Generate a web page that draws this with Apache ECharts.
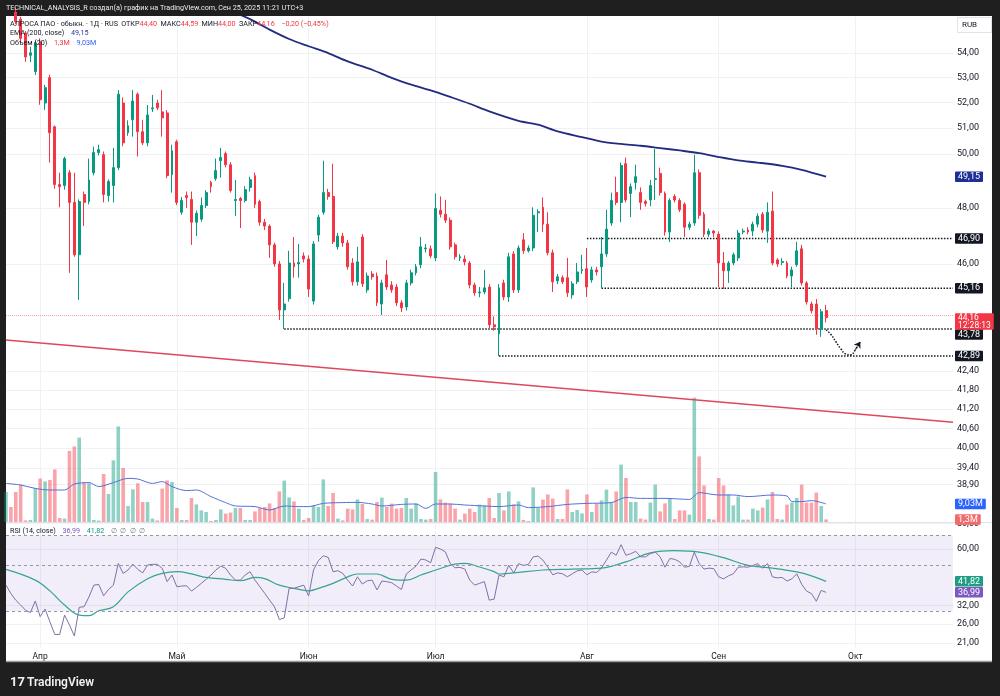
<!DOCTYPE html>
<html lang="ru">
<head>
<meta charset="utf-8">
<title>АЛРОСА ПАО · 1Д</title>
<script src="https://cdn.jsdelivr.net/npm/echarts@6.0.0/dist/echarts.min.js"></script>
<style>
  html, body { margin: 0; padding: 0; background: #1f1f1f; }
  #panel { position: absolute; left: 6px; top: 16px; width: 986px; height: 646px; background: #fff; }
  #main { position: absolute; left: 0; top: 0; width: 1000px; height: 696px; }
</style>
</head>
<body>
<div id="panel"></div>
<div id="main"></div>
<script>
// bar slots: 169 daily bars + empty space on the right
const SLOT_COUNT = 195;
const MONTH_LABELS = { 7: "Апр", 35: "Май", 62: "Июн", 88: "Июл", 119: "Авг", 146: "Сен", 174: "Окт" };

const PRICE_TICKS = [54, 53, 52, 51, 50, 48, 46, 42.4, 41.8, 41.2, 40.6, 40, 39.4, 38.9];
const PRICE_RANGE = [37.81, 55.49];
const VOLUME_MAX = 252.5;
const RSI_TICKS = [80, 60, 32, 26, 21];
const RSI_RANGE = [19.86, 80.3];
const RSI_BANDS = [70, 50, 30];

// [open, high, low, close]
const OHLC = [
  [56.0, 56.7, 55.7, 56.4], [56.4, 56.6, 55.6, 55.8], [55.7, 55.9, 55.2, 55.3], [55.4, 55.5, 54.4, 54.6],
  [54.82, 54.9, 53.63, 53.83], [53.9, 54.25, 53.62, 54.0], [53.24, 54.5, 53.1, 54.41], [54.45, 54.6, 51.91, 52.11],
  [51.98, 52.7, 51.71, 52.59], [52.99, 53.11, 49.68, 50.82], [51.05, 51.1, 48.7, 48.86], [48.86, 49.3, 48.02, 48.78],
  [48.82, 49.9, 48.67, 49.83], [49.3, 49.4, 45.69, 48.2], [48.2, 49.3, 46.25, 46.32], [46.32, 48.31, 44.76, 48.23],
  [48.49, 48.6, 47.34, 48.2], [48.23, 49.83, 48.13, 49.03], [49.3, 50.28, 49.2, 50.06], [50.06, 50.36, 49.95, 50.17],
  [49.98, 50.1, 48.2, 48.49], [48.45, 49.05, 48.23, 48.97], [48.82, 50.24, 48.2, 49.49], [49.49, 52.49, 49.4, 52.33],
  [51.98, 52.2, 50.3, 50.43], [50.82, 51.3, 50.7, 51.09], [51.32, 52.49, 50.67, 52.06], [52.33, 52.4, 49.91, 50.86],
  [50.86, 51.32, 50.35, 50.43], [50.43, 51.9, 50.3, 51.51], [51.75, 52.3, 51.63, 51.79], [51.98, 52.11, 51.7, 51.79],
  [51.63, 52.49, 50.67, 51.4], [51.59, 51.7, 49.1, 49.19], [49.23, 50.36, 48.56, 50.13], [50.47, 50.55, 48.1, 48.2],
  [47.84, 48.4, 47.75, 48.27], [48.45, 48.6, 48.0, 48.38], [48.31, 48.6, 46.67, 47.48], [47.48, 47.9, 46.98, 47.8],
  [47.59, 48.38, 47.5, 48.09], [48.09, 48.65, 48.0, 48.56], [48.93, 49.0, 48.56, 48.78], [49.08, 49.83, 49.0, 49.38],
  [49.75, 50.24, 49.12, 49.87], [50.02, 50.1, 49.5, 49.6], [49.6, 49.7, 48.56, 48.64], [48.27, 49.03, 47.7, 48.31],
  [48.34, 48.4, 47.27, 48.27], [48.27, 48.8, 48.2, 48.67], [48.75, 49.15, 48.6, 49.04], [49.19, 49.3, 48.0, 48.13],
  [48.23, 48.3, 47.35, 47.48], [47.48, 47.6, 47.2, 47.34], [47.34, 47.4, 46.21, 46.67], [46.67, 46.75, 45.9, 46.0],
  [46.0, 46.1, 44.08, 44.42], [44.42, 45.34, 43.78, 44.62], [44.8, 46.46, 44.7, 46.03], [46.03, 46.95, 45.52, 45.9],
  [46.0, 46.7, 45.52, 46.05], [46.28, 46.4, 46.05, 46.17], [46.17, 46.3, 44.86, 45.13], [44.72, 46.8, 44.6, 46.7],
  [47.02, 47.75, 46.78, 47.66], [47.84, 49.75, 47.75, 48.56], [48.56, 48.7, 48.3, 48.42], [48.42, 49.64, 46.7, 46.78],
  [46.6, 47.1, 46.5, 46.98], [46.98, 47.1, 46.6, 46.74], [46.74, 46.85, 45.8, 45.9], [46.03, 46.2, 45.25, 45.38],
  [45.38, 46.6, 45.25, 46.07], [46.95, 47.05, 45.2, 45.31], [45.1, 45.7, 45.0, 45.58], [45.65, 45.75, 45.45, 45.55],
  [45.58, 45.7, 44.55, 44.66], [44.62, 45.45, 44.25, 45.34], [45.62, 46.14, 45.1, 45.2], [45.27, 45.4, 45.0, 45.1],
  [45.2, 45.3, 44.55, 44.66], [44.66, 44.75, 44.35, 44.49], [44.52, 45.45, 44.4, 45.34], [45.34, 45.8, 45.25, 45.69],
  [45.69, 46.0, 45.6, 45.9], [45.97, 46.95, 45.85, 46.6], [46.53, 46.7, 46.4, 46.56], [46.53, 46.65, 46.2, 46.28],
  [46.21, 48.53, 46.1, 47.98], [47.91, 48.42, 47.65, 47.77], [47.77, 48.29, 47.45, 47.55], [47.55, 47.65, 46.5, 46.6],
  [46.67, 46.75, 46.15, 46.25], [46.21, 46.35, 46.1, 46.25], [46.17, 46.3, 45.95, 46.07], [46.03, 46.1, 45.15, 45.27],
  [45.27, 45.35, 44.9, 45.0], [45.0, 45.2, 44.85, 45.03], [45.03, 45.79, 44.95, 45.17], [45.2, 45.3, 43.8, 43.92],
  [43.92, 44.2, 43.72, 43.85], [43.62, 45.3, 42.89, 45.17], [45.34, 45.45, 44.75, 44.86], [44.86, 46.39, 44.69, 46.25],
  [46.35, 46.45, 45.0, 45.1], [45.1, 46.65, 45.0, 46.56], [46.85, 47.09, 46.35, 46.46], [46.46, 46.65, 46.4, 46.56],
  [46.56, 48.02, 46.45, 47.73], [47.82, 47.95, 47.13, 47.86], [48.02, 48.38, 47.13, 47.41], [47.41, 47.84, 46.3, 46.39],
  [46.39, 46.5, 45.03, 45.38], [45.41, 45.65, 45.3, 45.55], [45.52, 45.6, 45.3, 45.38], [45.52, 46.21, 44.86, 45.0],
  [44.93, 45.4, 44.8, 45.31], [45.38, 46.03, 45.3, 45.72], [45.76, 46.32, 45.65, 45.8], [45.83, 46.56, 44.86, 45.2],
  [45.44, 45.9, 45.35, 45.79], [45.79, 45.9, 45.6, 45.72], [45.9, 46.95, 45.17, 46.35], [46.35, 47.93, 46.25, 47.23],
  [47.45, 48.56, 47.35, 48.27], [48.56, 49.15, 48.1, 48.2], [48.2, 49.68, 47.48, 49.57], [49.64, 49.87, 48.2, 48.29],
  [48.53, 48.9, 47.66, 48.78], [48.93, 49.6, 48.67, 49.15], [48.56, 48.75, 47.93, 48.2], [48.23, 48.3, 48.05, 48.16],
  [48.29, 49.03, 48.06, 48.82], [49.05, 50.2, 48.29, 49.08], [49.27, 49.49, 48.45, 48.56], [48.53, 48.6, 47.0, 47.13],
  [47.13, 48.35, 46.77, 48.27], [48.42, 48.5, 48.2, 48.29], [48.27, 48.35, 47.85, 47.93], [48.13, 48.2, 46.95, 47.3],
  [47.3, 47.5, 47.2, 47.41], [47.45, 49.98, 47.35, 49.3], [49.3, 49.42, 47.6, 47.73], [47.77, 47.85, 46.95, 47.05],
  [47.05, 47.25, 46.95, 47.16], [47.16, 47.2, 46.95, 47.09], [47.05, 47.15, 45.2, 46.03], [46.03, 46.42, 45.13, 45.76],
  [45.76, 46.1, 45.34, 46.03], [46.03, 46.4, 45.95, 46.32], [46.21, 47.2, 46.1, 47.09], [47.13, 47.25, 47.05, 47.16],
  [47.2, 47.3, 47.05, 47.13], [47.16, 47.5, 46.98, 47.41], [47.41, 47.8, 47.3, 47.7], [47.77, 47.85, 47.1, 47.2],
  [47.16, 48.2, 46.74, 47.84], [47.88, 48.6, 45.95, 46.03], [46.14, 46.2, 45.9, 46.0], [46.05, 46.2, 45.95, 46.08],
  [46.03, 46.1, 45.5, 45.58], [45.58, 45.9, 45.2, 45.79], [45.97, 46.78, 45.9, 46.46], [46.53, 46.67, 45.25, 45.34],
  [45.34, 45.4, 44.6, 44.69], [44.62, 44.7, 44.3, 44.39], [44.62, 44.79, 43.59, 43.78], [43.78, 44.45, 43.52, 44.36],
  [44.4, 44.59, 44.0, 44.16]
];

// volume, millions
const VOLUME = [
  15, 7.5, 15, 18.7, 0.8, 1.0, 17, 21.7, 20.3, 21, 26.3, 2, 1.7, 35.5, 37.8, 42.2, 20, 19.3, 1, 0.7,
  24, 14, 30.8, 47.8, 27, 8, 16.3, 19.3, 10, 10, 1.7, 0.8, 16.7, 20.8, 20, 7, 1, 1, 12, 8.8,
  5.8, 5, 0.5, 1, 6.3, 4.2, 4.7, 7, 7, 1, 1, 5.3, 7, 7.5, 9.3, 7, 15.3, 20.7, 12.3, 10.3,
  6.7, 1, 2, 8.3, 7.5, 21.3, 8, 14.5, 1.7, 0.8, 6.7, 6.3, 11.3, 9, 1.5, 1.2, 10, 12.2, 7.5, 9.2,
  6.7, 7, 12, 6.7, 9.3, 1.5, 1.2, 1.5, 25, 11.3, 9.7, 9.2, 6.7, 1.2, 4.2, 6.7, 5, 8.7, 8.3, 12,
  2, 14.5, 5.8, 15.3, 8.8, 10.3, 1, 0.5, 17.3, 7, 11.2, 13.8, 11.7, 1.5, 1.5, 16.3, 5, 6, 4.3, 13.8,
  5, 9.2, 10.8, 16.2, 10, 15.3, 28.7, 22, 10, 10, 1.7, 1.2, 9.7, 18.7, 5.3, 9.3, 12, 1.5, 5.8, 5.8,
  3.7, 62.2, 32.8, 18.3, 1.5, 1.2, 22, 18.3, 13.8, 8.3, 12.8, 1.2, 1.2, 6.7, 5.8, 7.2, 11.3, 15, 1.5, 1.2,
  8.7, 9.7, 12, 18.7, 9.7, 9.7, 14.7, 8, 1.3
];

// [bar, value]
const VOLUME_MA = [
  [0, 19.3], [3, 18.5], [6, 16.8], [9, 16], [12, 16], [14, 19], [17, 19.7], [19, 17.7], [22, 19.7], [25, 21.8],
  [27, 21.5], [30, 19.3], [32, 20.2], [34, 17.7], [37, 15.7], [39, 16], [42, 12.7], [45, 9.7], [47, 8], [51, 7.7],
  [54, 6], [57, 8], [60, 7.7], [62, 7.7], [65, 9.3], [69, 9.7], [72, 9.8], [75, 9], [77, 8], [81, 8.8],
  [84, 9], [86, 6.8], [88, 9], [91, 9], [94, 8.5], [98, 8], [101, 7.7], [105, 8.5], [107, 7.2], [111, 7.7],
  [115, 8.8], [119, 9.3], [124, 9.7], [127, 12.3], [130, 11.8], [135, 11.8], [140, 11.3], [142, 14.7], [146, 13.5], [149, 13.5],
  [152, 12.7], [157, 13.5], [160, 13], [161, 10.2], [163, 10.2], [165, 10.7], [168, 9.03]
];

const EMA200 = [
  [46, 55.75], [50, 55.4], [54, 54.96], [58, 54.57], [62, 54.27], [66, 53.99], [70, 53.65], [75, 53.31], [79, 52.98],
  [83, 52.71], [87, 52.48], [91, 52.22], [95, 51.95], [99, 51.65], [105, 51.28], [109, 51.13], [113, 50.87], [118, 50.65],
  [122, 50.48], [126, 50.39], [130, 50.32], [134, 50.23], [138, 50.14], [142, 50.04], [146, 49.89], [150, 49.76],
  [154, 49.68], [159, 49.56], [163, 49.41], [168, 49.15]
];

const RSI = [
  40.1, 36.5, 33.9, 32.1, 30.3, 29.5, 33.6, 28.2, 30.7, 26.6, 23.1, 23.1, 28.7, 25.7, 22.7, 31.3, 31.5, 35.2, 40.1, 40.4,
  35.6, 38.2, 40.1, 51.1, 45.7, 47.5, 50.7, 47.8, 46.0, 50.2, 50.6, 50.6, 48.4, 41.7, 44.9, 39.4, 39.7, 39.8, 37.5, 39.1,
  40.9, 42.8, 44.9, 47.5, 49.6, 48.4, 44.9, 42.4, 42.4, 44.9, 46.6, 42.4, 39.4, 36.6, 33.9, 31.5, 27.3, 27.8, 38.7, 38.7,
  39.4, 40.1, 35.5, 47.5, 52.7, 55.7, 54.7, 46.6, 47.1, 45.7, 42.4, 39.7, 44.0, 40.6, 42.1, 42.4, 38.0, 42.0, 41.7, 41.2,
  39.7, 38.2, 45.4, 47.5, 49.6, 53.7, 53.1, 51.5, 61.2, 60.0, 58.2, 51.1, 48.7, 48.9, 48.0, 42.4, 40.1, 40.9, 41.7, 33.9,
  34.3, 44.9, 44, 50, 46, 51, 50, 50.5, 55, 55.5, 53, 49, 45, 46, 45.5, 44, 45.5, 47, 47.5, 45,
  46.5, 46.2, 48.5, 53, 58, 56, 63, 56, 57, 58.5, 55, 55, 57, 58, 55, 49, 54, 53.5, 52, 49,
  49.5, 58, 51, 48, 48.5, 48.2, 44, 43, 44.5, 45.5, 49, 49.2, 49, 50, 51, 48.5, 51, 44, 43.5, 43.7,
  42, 43, 45.5, 40.5, 37.5, 36.5, 33.5, 37.8, 36.99
];

const RSI_MA = [
  [0, 47.8], [6, 42.4], [9, 37.6], [12, 32.1], [15, 28.7], [17, 28.5], [19, 30.1], [22, 31.5], [25, 37.2], [29, 43.1],
  [32, 45.7], [35, 46.6], [38, 45.5], [41, 43.7], [45, 42.8], [48, 42.1], [51, 43.7], [53, 43.1], [56, 40.1], [59, 38.7],
  [62, 37.6], [64, 38.7], [67, 40.9], [70, 44.0], [72, 45.4], [76, 45.4], [79, 42.8], [82, 42.4], [85, 44.9], [89, 48.3],
  [92, 50.7], [94, 51.1], [97, 49.1], [100, 46.6], [101, 45.4], [104, 46], [110, 47.5], [116, 48], [122, 48.5], [127, 52],
  [132, 57.5], [137, 59], [142, 58], [147, 54.5], [152, 50], [157, 48.5], [162, 46.5], [165, 44.5], [168, 41.82]
];

// drawings
const LEVELS = [
  { from: 119, value: 46.90 },
  { from: 122, value: 45.16 },
  { from: 57, value: 43.78 },
  { from: 101, value: 42.89 }
];
const TREND = [[0, 43.42], [194, 40.79]];
const ARROW_PATH = [[168, 43.75], [169, 43.6], [170, 43.36], [171, 43.13], [172, 42.96], [173, 42.93], [174, 43.1], [175, 43.36]];
const COUNTDOWN = "12:28:13";

const FONT = "Roboto, 'Liberation Sans', sans-serif";
const ln = Math.log;
const fmt = v => v.toFixed(2).replace(".", ",");
const fmtVol = v => v.toFixed(2).replace(/0+$/, "").replace(/\.$/, "").replace(".", ",") + "M";
const lnPairs = arr => arr.map(([i, v]) => [i, ln(v)]);

const categories = Array.from({ length: SLOT_COUNT }, (_, i) => String(i));
const isMonth = i => MONTH_LABELS[i] !== undefined;
const candleData = OHLC.map(([o, h, l, c]) => [ln(o), ln(c), ln(l), ln(h)]);
const volumeData = VOLUME.map((v, i) => ({
  value: v,
  itemStyle: { color: OHLC[i][3] >= OHLC[i][0] ? "rgba(8,153,129,0.45)" : "rgba(242,54,69,0.46)" }
}));

const gridLine = { show: true, lineStyle: { color: "#f0f1f4", width: 1 } };
const last = OHLC[OHLC.length - 1];
const prevClose = OHLC[OHLC.length - 2][3];
const change = last[3] - prevClose;
const signed = v => (v < 0 ? "−" : "+") + fmt(Math.abs(v));

const chart = echarts.init(document.getElementById("main"));

const levelSeries = LEVELS.map(lv => ({
  type: "line",
  xAxisIndex: 0, yAxisIndex: 0,
  data: [[lv.from, ln(lv.value)], [SLOT_COUNT - 1, ln(lv.value)]],
  symbol: "none",
  lineStyle: { color: "#131722", width: 1.5, type: "dotted" },
  z: 4
}));

chart.setOption({
  animation: false,
  backgroundColor: "transparent",
  textStyle: { fontFamily: FONT },
  grid: [
    { left: 6, right: 47, top: 17, height: 505, containLabel: false, outerBoundsMode: "none" },
    { left: 6, right: 47, top: 523, height: 125, containLabel: false, outerBoundsMode: "none" }
  ],
  xAxis: [
    {
      type: "category", gridIndex: 0, data: categories, boundaryGap: false,
      axisLine: { show: false }, axisTick: { show: false }, axisLabel: { show: false },
      splitLine: { show: true, interval: i => isMonth(i), lineStyle: { color: "#f0f1f4" } }
    },
    {
      type: "category", gridIndex: 1, data: categories, boundaryGap: false,
      axisLine: { show: false }, axisTick: { show: false },
      axisLabel: {
        interval: i => isMonth(i), formatter: (v, i) => MONTH_LABELS[i] || "",
        color: "#131722", fontSize: 8.5, margin: 4, fontFamily: FONT
      },
      splitLine: { show: true, interval: i => isMonth(i), lineStyle: { color: "#f0f1f4" } }
    }
  ],
  yAxis: [
    {
      type: "value", gridIndex: 0, position: "right",
      min: ln(PRICE_RANGE[0]), max: ln(PRICE_RANGE[1]),
      axisLine: { show: false },
      axisTick: { show: false, customValues: PRICE_TICKS.map(ln) },
      axisLabel: {
        customValues: PRICE_TICKS.map(ln), formatter: v => fmt(Math.exp(v)),
        color: "#131722", fontSize: 9, margin: 4, fontFamily: FONT
      },
      splitLine: gridLine
    },
    { type: "value", gridIndex: 0, min: 0, max: VOLUME_MAX, show: false },
    {
      type: "value", gridIndex: 1, position: "right",
      min: ln(RSI_RANGE[0]), max: ln(RSI_RANGE[1]),
      axisLine: { show: false },
      axisTick: { show: false, customValues: RSI_TICKS.map(ln) },
      axisLabel: {
        customValues: RSI_TICKS.map(ln), formatter: v => fmt(Math.exp(v)),
        color: "#131722", fontSize: 9, margin: 4, fontFamily: FONT
      },
      splitLine: gridLine
    }
  ],
  series: [
    {
      type: "bar", name: "Объем", xAxisIndex: 0, yAxisIndex: 1,
      data: volumeData, barWidth: 3.6, z: 1
    },
    {
      type: "line", name: "Объем MA", xAxisIndex: 0, yAxisIndex: 1,
      data: VOLUME_MA, smooth: 0.3, symbol: "none",
      lineStyle: { color: "#5470d8", width: 1 }, z: 2
    },
    {
      type: "line", name: "Тренд", xAxisIndex: 0, yAxisIndex: 0,
      data: lnPairs(TREND), symbol: "none",
      lineStyle: { color: "#e0475c", width: 1.5 }, z: 3
    },
    {
      type: "candlestick", name: "АЛРОСА", xAxisIndex: 0, yAxisIndex: 0,
      data: candleData, barWidth: 2.4,
      itemStyle: { color: "#089981", color0: "#f23645", borderColor: "#089981", borderColor0: "#f23645", borderWidth: 1 },
      markLine: {
        silent: true, symbol: "none", label: { show: false },
        data: [{ yAxis: ln(last[3]), lineStyle: { color: "rgba(242,54,69,0.45)", type: "dotted", width: 1 } }]
      },
      z: 5
    },
    {
      type: "line", name: "EMA 200", xAxisIndex: 0, yAxisIndex: 0,
      data: lnPairs(EMA200), smooth: 0.3, symbol: "none",
      lineStyle: { color: "#202c80", width: 1.8 }, z: 6
    },
    ...levelSeries,
    {
      type: "line", name: "arrow", xAxisIndex: 0, yAxisIndex: 0,
      data: lnPairs(ARROW_PATH), smooth: 0.5, symbol: "none",
      lineStyle: { color: "#131722", width: 1.5, type: "dotted" }, z: 6,
      markLine: {
        silent: true, symbol: ["none", "arrow"], symbolSize: 6, label: { show: false },
        lineStyle: { color: "#131722", width: 1.2, type: "dotted" },
        data: [[
          { coord: [ARROW_PATH[ARROW_PATH.length - 2][0], ln(ARROW_PATH[ARROW_PATH.length - 2][1])] },
          { coord: [ARROW_PATH[ARROW_PATH.length - 1][0], ln(ARROW_PATH[ARROW_PATH.length - 1][1])] }
        ]]
      }
    },
    {
      type: "line", name: "RSI", xAxisIndex: 1, yAxisIndex: 2,
      data: RSI.map(ln), symbol: "none",
      lineStyle: { color: "#7f6fa8", width: 1 }, z: 4,
      markArea: {
        silent: true,
        itemStyle: { color: "rgba(126,87,194,0.1)" },
        data: [[{ yAxis: ln(RSI_BANDS[0]) }, { yAxis: ln(RSI_BANDS[2]) }]]
      },
      markLine: {
        silent: true, symbol: "none", label: { show: false },
        lineStyle: { color: "#9598a1", width: 1, type: [3, 3] },
        data: RSI_BANDS.map(b => ({ yAxis: ln(b) }))
      }
    },
    {
      type: "line", name: "RSI MA", xAxisIndex: 1, yAxisIndex: 2,
      data: lnPairs(RSI_MA), smooth: 0.4, symbol: "none",
      lineStyle: { color: "#36a48f", width: 1.2 }, z: 3
    }
  ]
});

// value tags on the scale, placed through the axes
const yPx = (axis, v) => chart.convertToPixel({ yAxisIndex: axis }, v);
const tagStyle = (text, bg, extra) => Object.assign({
  text, fill: "#ffffff", backgroundColor: bg, padding: [1, 3, 0.5, 3],
  fontSize: 9, fontFamily: FONT, align: "left", verticalAlign: "middle", borderRadius: 1
}, extra || {});
const tag = (axis, value, text, bg, dy) => ({
  type: "text", x: 955, y: yPx(axis, value) + (dy || 0), z: 100, silent: true,
  style: tagStyle(text, bg)
});

const emaLast = EMA200[EMA200.length - 1][1];
const volMaLast = VOLUME_MA[VOLUME_MA.length - 1][1];
const rsiLast = RSI[RSI.length - 1];
const rsiMaLast = RSI_MA[RSI_MA.length - 1][1];
const priceY = yPx(0, ln(last[3]));

const LEG = 7.2;
const k = { fill: "#131722", fontSize: LEG, fontFamily: FONT };
const red = { fill: "#f23645", fontSize: LEG, fontFamily: FONT };

chart.setOption({
  graphic: { elements: [
    {
      type: "text", x: 6, y: 8.5, silent: true, z: 100,
      style: { text: "TECHNICAL_ANALYSIS_R создал(а) график на TradingView.com, Сен 25, 2025 11:21 UTC+3",
        fill: "#ececec", fontSize: LEG, fontFamily: FONT, verticalAlign: "middle" }
    },
    {
      type: "text", x: 10, y: 24, silent: true, z: 100,
      style: {
        text: "{k|АЛРОСА ПАО · обыкн. · 1Д · RUS} {k|ОТКР}{r|" + fmt(last[0]) + "} {k|МАКС}{r|" + fmt(last[1]) +
          "} {k|МИН}{r|" + fmt(last[2]) + "} {k|ЗАКР}{r|" + fmt(last[3]) + "}  {r|" + signed(change) +
          " (" + signed(change / prevClose * 100) + "%)}",
        rich: { k, r: red }, verticalAlign: "middle"
      }
    },
    {
      type: "text", x: 10, y: 33.5, silent: true, z: 100,
      style: { text: "{k|EMA (200, close)}  {b|" + fmt(emaLast) + "}",
        rich: { k, b: { fill: "#2a3a9e", fontSize: LEG, fontFamily: FONT } }, verticalAlign: "middle" }
    },
    {
      type: "text", x: 10, y: 43, silent: true, z: 100,
      style: { text: "{k|Объем (20)}  {r|" + fmtVol(VOLUME[VOLUME.length - 1]) + "}  {b|" + fmtVol(volMaLast) + "}",
        rich: { k, r: red, b: { fill: "#2962ff", fontSize: LEG, fontFamily: FONT } }, verticalAlign: "middle" }
    },
    {
      type: "text", x: 10, y: 531.5, silent: true, z: 100,
      style: { text: "{k|RSI (14, close)}  {p|" + fmt(rsiLast) + "}  {t|" + fmt(rsiMaLast) + "}  {g|∅  ∅  ∅  ∅}",
        rich: { k, p: { fill: "#7e57c2", fontSize: LEG, fontFamily: FONT },
          t: { fill: "#089981", fontSize: LEG, fontFamily: FONT },
          g: { fill: "#787b86", fontSize: 7, fontFamily: FONT } },
        verticalAlign: "middle" }
    },
    // pane separator and bottom edge
    { type: "line", silent: true, z: 50, shape: { x1: 6, y1: 522.5, x2: 992, y2: 522.5 }, style: { stroke: "#e0e3eb", lineWidth: 1 } },
    { type: "line", silent: true, z: 50, shape: { x1: 6, y1: 661.5, x2: 992, y2: 661.5 }, style: { stroke: "#9a9a9a", lineWidth: 1.5 } },
    // currency box
    { type: "rect", silent: true, z: 90, shape: { x: 957.5, y: 17.5, width: 34, height: 15 }, style: { fill: "#fff", stroke: "#e0e3eb", lineWidth: 1 } },
    { type: "text", x: 962, y: 25, silent: true, z: 100, style: { text: "RUB", fill: "#131722", fontSize: 8, fontFamily: FONT, verticalAlign: "middle" } },
    // tags
    tag(0, ln(emaLast), fmt(emaLast), "#1f2f96"),
    tag(0, ln(LEVELS[0].value), fmt(LEVELS[0].value), "#131722"),
    tag(0, ln(LEVELS[1].value), fmt(LEVELS[1].value), "#131722"),
    tag(0, ln(LEVELS[2].value), fmt(LEVELS[2].value), "#131722", 5.5),
    tag(0, ln(LEVELS[3].value), fmt(LEVELS[3].value), "#131722"),
    {
      type: "text", x: 955, y: priceY - 4.5, z: 101, silent: true,
      style: tagStyle(fmt(last[3]) + "\n" + COUNTDOWN, "#f23645",
        { verticalAlign: "top", fontSize: 8.5, lineHeight: 7.5, padding: [1, 3, 0.5, 3] })
    },
    tag(1, volMaLast, fmtVol(volMaLast), "#2962ff"),
    tag(1, VOLUME[VOLUME.length - 1], fmtVol(VOLUME[VOLUME.length - 1]), "#f26b6b"),
    tag(2, ln(rsiMaLast), fmt(rsiMaLast), "#1d9e82"),
    tag(2, ln(rsiLast), fmt(rsiLast), "#7e57c2"),
    // footer logo
    { type: "text", x: 10, y: 683, silent: true, z: 100, style: { text: "17", fill: "#f0f0f0", fontSize: 13, fontWeight: "bold", fontFamily: FONT, verticalAlign: "middle" } },
    { type: "text", x: 27, y: 683, silent: true, z: 100, style: { text: "TradingView", fill: "#f0f0f0", fontSize: 12, fontWeight: 600, fontFamily: FONT, verticalAlign: "middle" } }
  ] }
});
</script>
</body>
</html>
